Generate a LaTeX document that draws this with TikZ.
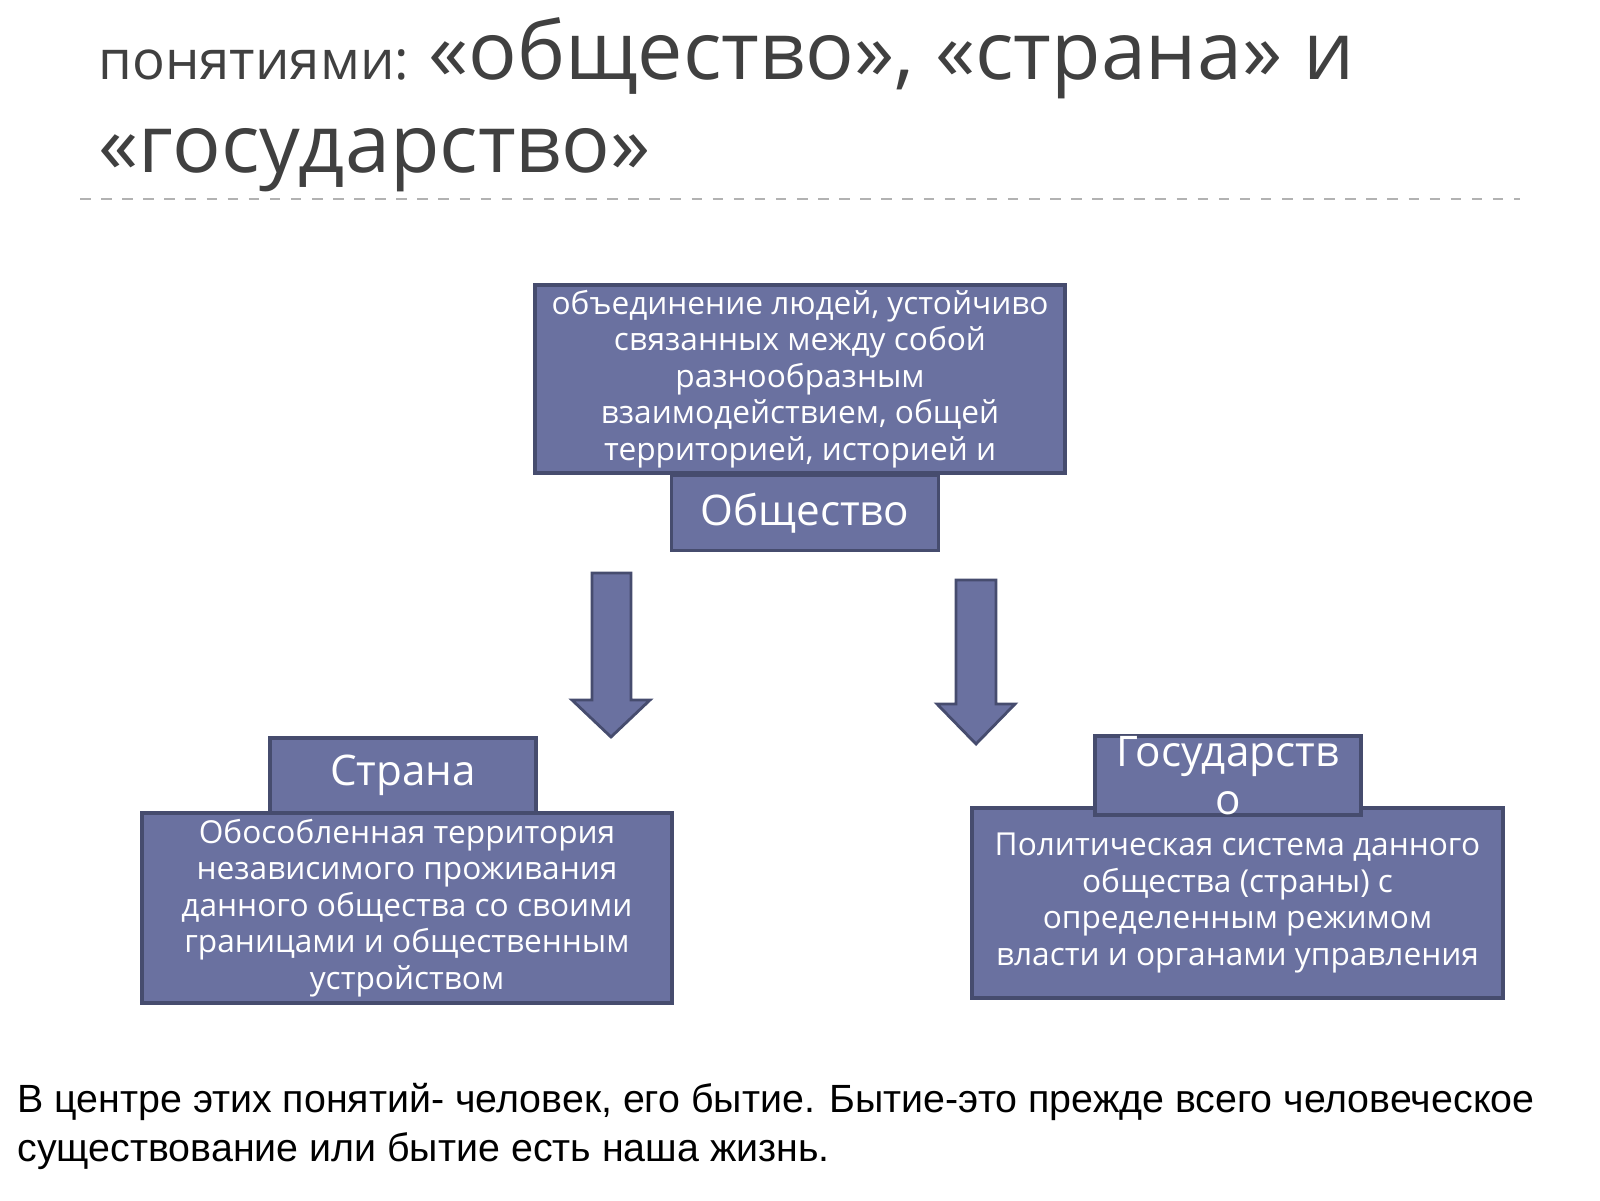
\documentclass[tikz,border=0pt]{standalone}
\usepackage{fontspec}
\setmainfont{Open Sans}
\newfontfamily\arialfont{Liberation Sans}
\usetikzlibrary{positioning,calc}
\definecolor{boxblue}{RGB}{106,113,160}
\definecolor{boxline}{RGB}{70,76,110}
\definecolor{titlegray}{RGB}{64,64,64}

\begin{document}
\begin{tikzpicture}[
  box/.style={rectangle,draw=boxline,line width=1pt,fill=boxblue,text=white,inner sep=0pt,align=center},
  bigarrow/.style={fill=boxblue,draw=boxline,line width=0.8pt}]

\useasboundingbox (0,0) rectangle (16,12);

% title
\node[anchor=base west,text=titlegray,font=\fontsize{15.5}{18}\selectfont] at (0.86,11.2) (title1) {понятиями: \fontsize{23}{26}\selectfont«общество», «страна» и};
\node[anchor=base west,text=titlegray,font=\fontsize{23}{26}\selectfont] at (0.86,10.27) (title2) {«государство»};
\draw[gray!60,dashed,line width=0.5pt] (0.8,10.01) -- (15.2,10.01);

%%%%%%%%%%%%%%%%%%%
% boxes
\node[box,minimum width=5.3cm,minimum height=1.88cm,font=\fontsize{9}{10.4}\selectfont] at (8.0,8.21) (obshdef) {объединение людей, устойчиво\\связанных между собой\\разнообразным\\взаимодействием, общей\\территорией, историей и};
\node[box,minimum width=2.67cm,minimum height=0.75cm,font=\fontsize{12}{14}\selectfont] at (8.05,6.87) (obsh) {Общество};

\node[box,minimum width=2.66cm,minimum height=0.75cm,font=\fontsize{12}{14}\selectfont] at (4.03,4.245) (strana) {Страна};
\node[box,minimum width=5.3cm,minimum height=1.9cm,font=\fontsize{9}{10.4}\selectfont] at (4.07,2.92) (stranadef) {Обособленная территория\\независимого проживания\\данного общества со своими\\границами и общественным\\устройством};

\node[box,minimum width=5.31cm,minimum height=1.9cm,font=\fontsize{9}{10.4}\selectfont] at (12.375,2.97) (gosdef) {Политическая система данного\\общества (страны) с\\определенным режимом\\власти и органами управления};
\node[box,minimum width=2.66cm,minimum height=0.75cm,font=\fontsize{12}{13.8}\selectfont] at (12.28,4.245) (gos) {Государств\\о};

% block arrows
\draw[bigarrow] (5.92,6.27) -- (6.31,6.27) -- (6.31,5.0) -- (6.50,5.0) -- (6.11,4.63) -- (5.72,5.0) -- (5.92,5.0) -- cycle;
\draw[bigarrow] (9.56,6.20) -- (9.96,6.20) -- (9.96,4.96) -- (10.15,4.96) -- (9.76,4.56) -- (9.37,4.96) -- (9.56,4.96) -- cycle;

% bottom text
\node[anchor=base west,font=\arialfont\fontsize{11.2}{14}\selectfont] at (0.05,0.88) (note1) {В центре этих понятий- человек, его бытие. Бытие-это прежде всего человеческое};
\node[anchor=base west,font=\arialfont\fontsize{11.2}{14}\selectfont] at (0.05,0.39) (note2) {существование или бытие есть наша жизнь.};

\end{tikzpicture}
\end{document}
